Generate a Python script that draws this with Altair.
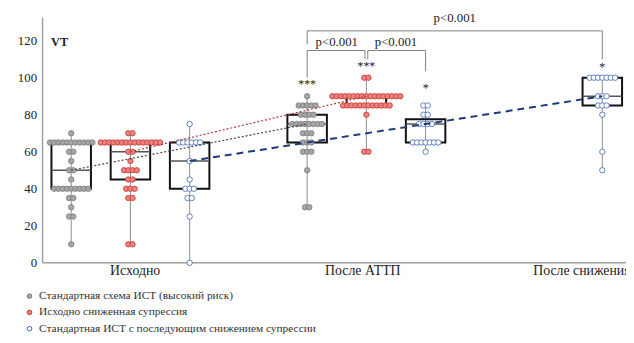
import altair as alt
import pandas as pd

# ---------------- data ----------------
series = ["Стандартная схема ИСТ (высокий риск)",
          "Исходно сниженная супрессия",
          "Стандартная ИСТ с последующим снижением супрессии"]
stages = ["Исходно", "После АТТП", "После снижения"]

gray_base_vals = [70, 65, 60, 55, 50, 45, 40, 35, 30, 25, 10]
gray_base_cnts = [1, 11, 2, 1, 2, 1, 9, 2, 1, 2, 1]
red_base_vals = [70, 65, 60, 55, 50, 45, 40, 35, 10]
red_base_cnts = [2, 15, 2, 1, 4, 2, 3, 2, 2]
blue_base_vals = [75, 65, 55, 45, 40, 35, 25, 0]
blue_base_cnts = [1, 6, 1, 1, 3, 2, 1, 1]
gray_attp_vals = [90, 85, 80, 75, 70, 65, 60, 50, 30]
gray_attp_cnts = [1, 5, 4, 8, 3, 3, 3, 1, 2]
red_attp_vals = [100, 90, 85, 80, 60]
red_attp_cnts = [2, 17, 12, 1, 2]
blue_attp_vals = [85, 80, 75, 65, 60]
blue_attp_cnts = [2, 2, 4, 7, 1]
blue_after_vals = [100, 90, 85, 80, 60, 50]
blue_after_cnts = [7, 3, 3, 1, 1, 1]

# box statistics per (series, stage)
box_series = [0, 1, 2, 0, 1, 2, 2]
box_stage = [0, 0, 0, 1, 1, 1, 2]
box_low = [10, 10, 0, 30, 60, 60, 50]
box_q1 = [40, 45, 40, 65, 85, 65, 85]
box_med = [50, 60, 55, 75, 90, 75, 90]
box_q3 = [65, 65, 65, 80, 90, 77.5, 100]
box_high = [70, 70, 75, 90, 100, 85, 100]

# significance stars (series, stage, text, height)
star_series = [0, 1, 2, 2]
star_stage = [1, 1, 1, 2]
star_text = ["***", "***", "*", "*"]
star_y = [96.5, 106.5, 94.5, 106]

p_texts = ["p<0.001", "p<0.001", "p<0.001"]

# ---------------- layout ----------------
W, H = 591, 322
YMIN, YMAX = -37.33, 134.4
XMIN, XMAX = 0.6276, 3.1004
OFF = 0.251          # series offset inside a stage
HALF = 0.0837        # half box width
SP = 0.018           # dot spacing

FONT = "Liberation Serif"
fills = ["#a6a6a6", "#f08080", "#ffffff"]
strokes = ["#7a7a7a", "#c0392b", "#3c64b4"]


def pos(s, st):
    if st == 2:
        return st + 1.0
    return st + 1.0 + (s - 1) * OFF


dot_sets = [
    (0, 0, gray_base_vals, gray_base_cnts),
    (1, 0, red_base_vals, red_base_cnts),
    (2, 0, blue_base_vals, blue_base_cnts),
    (0, 1, gray_attp_vals, gray_attp_cnts),
    (1, 1, red_attp_vals, red_attp_cnts),
    (2, 1, blue_attp_vals, blue_attp_cnts),
    (2, 2, blue_after_vals, blue_after_cnts),
]
rows = []
for s, st, vals, cnts in dot_sets:
    c = pos(s, st)
    for v, n in zip(vals, cnts):
        for i in range(n):
            rows.append({"x": c + (i - (n - 1) / 2) * SP, "y": v, "series": series[s]})
dots = pd.DataFrame(rows)

boxes = pd.DataFrame({
    "xc": [pos(s, st) for s, st in zip(box_series, box_stage)],
    "low": box_low, "q1": box_q1, "med": box_med, "q3": box_q3, "high": box_high,
    "s": box_series, "st": box_stage,
})
boxes["xl"] = boxes["xc"] - HALF
boxes["xr"] = boxes["xc"] + HALF

XS = alt.Scale(domain=[XMIN, XMAX], nice=False, zero=False)
YS = alt.Scale(domain=[YMIN, YMAX], nice=False, zero=False)
yaxis = alt.Axis(values=[0, 20, 40, 60, 80, 100, 120], title=None, grid=False,
                 ticks=False, domain=False, labelFont=FONT, labelFontSize=13,
                 labelColor="#222222", labelPadding=6)


def X(f):
    return alt.X(f, type="quantitative", scale=XS, axis=None)


def Y(f):
    return alt.Y(f, type="quantitative", scale=YS, axis=yaxis)


base_b = alt.Chart(boxes)
whisk = base_b.mark_rule(color="#8c8c8c", strokeWidth=1).encode(
    x=X("xc"), y=Y("low"), y2=alt.Y2("high"))
rect = base_b.mark_rect(fillOpacity=0, stroke="#111111", strokeWidth=2).encode(
    x=X("xl"), x2=alt.X2("xr"), y=Y("q1"), y2=alt.Y2("q3"))
med = base_b.mark_rule(color="#555555", strokeWidth=1.5).encode(
    x=X("xl"), x2=alt.X2("xr"), y=Y("med"))

leg = alt.Legend(title=None, orient="none", legendX=-19, legendY=280,
                 labelFont=FONT, labelFontSize=11.5, labelColor="#333333",
                 labelLimit=600,
                 symbolSize=22, symbolStrokeWidth=1, rowPadding=3.5,
                 labelOffset=4, symbolType="circle", direction="vertical")
pts = alt.Chart(dots).mark_circle(size=30, opacity=1, strokeWidth=0.8).encode(
    x=X("x"), y=Y("y"),
    fill=alt.Fill("series:N", scale=alt.Scale(domain=series, range=fills), legend=leg),
    stroke=alt.Stroke("series:N", scale=alt.Scale(domain=series, range=strokes), legend=leg),
)


def trend(s, color, dash, width):
    d = boxes[boxes["s"] == s].sort_values("st")
    return alt.Chart(d).mark_line(color=color, strokeDash=dash, strokeWidth=width).encode(
        x=X("xc"), y=Y("med"), order="st:Q")


tr_gray = trend(0, "#404040", [2, 2], 1.2)
tr_red = trend(1, "#b03a3a", [2, 2], 1.2)
tr_blue = trend(2, "#1f3a7a", [7, 5], 2)

stars = pd.DataFrame({"x": [pos(s, st) for s, st in zip(star_series, star_stage)],
                      "y": star_y, "t": star_text})
star_layer = alt.Chart(stars).mark_text(font=FONT, fontSize=12, color="#222222",
                                        baseline="middle").encode(
    x=X("x"), y=Y("y"), text="t:N")

xg, xr_, xb, xa = pos(0, 1), pos(1, 1), pos(2, 1), pos(2, 2)
seg = pd.DataFrame([
    {"x": xg, "x2": xa, "y": 125.3, "y2": 125.3},
    {"x": xg, "x2": xg, "y": 125.3, "y2": 118},
    {"x": xa, "x2": xa, "y": 125.3, "y2": 110},
    {"x": xg, "x2": xr_ - 0.006, "y": 114.7, "y2": 114.7},
    {"x": xg, "x2": xg, "y": 114.7, "y2": 100},
    {"x": xr_ - 0.006, "x2": xr_ - 0.006, "y": 114.7, "y2": 110},
    {"x": xr_ + 0.006, "x2": xb, "y": 114.7, "y2": 114.7},
    {"x": xr_ + 0.006, "x2": xr_ + 0.006, "y": 114.7, "y2": 110},
    {"x": xb, "x2": xb, "y": 114.7, "y2": 103.5},
])
brackets = alt.Chart(seg).mark_rule(color="#7f7f7f", strokeWidth=1).encode(
    x=X("x"), x2=alt.X2("x2"), y=Y("y"), y2=alt.Y2("y2"))
ptxt = pd.DataFrame({"x": [(xg + xa) / 2, (xg + xr_) / 2, (xr_ + xb) / 2],
                     "y": [132, 119.5, 119.5], "t": p_texts})
p_layer = alt.Chart(ptxt).mark_text(font=FONT, fontSize=13, color="#222222",
                                    baseline="middle").encode(
    x=X("x"), y=Y("y"), text="t:N")

yline = alt.Chart(pd.DataFrame({"a": [0], "b": [132.5]})).mark_rule(
    color="#a0a0a0", strokeWidth=1.5).encode(x=alt.value(0), y=Y("a"), y2=alt.Y2("b"))
xline = alt.Chart(pd.DataFrame({"a": [0]})).mark_rule(
    color="#a0a0a0", strokeWidth=1.5).encode(x=alt.value(0), x2=alt.value(W), y=Y("a"))

xl = pd.DataFrame({"x": [1.02, 1.985, 2.707], "y": [-4.5, -4.5, -4.5], "t": stages})
xlab_c = alt.Chart(xl.iloc[:2]).mark_text(font=FONT, fontSize=14, color="#222222",
                                          baseline="middle", align="center").encode(
    x=X("x"), y=Y("y"), text="t:N")
xlab_r = alt.Chart(xl.iloc[2:]).mark_text(font=FONT, fontSize=14, color="#222222",
                                          baseline="middle", align="left", clip=True).encode(
    x=X("x"), y=Y("y"), text="t:N")

vt = alt.Chart(pd.DataFrame({"x": [0.70], "y": [119.5], "t": ["VT"]})).mark_text(
    font=FONT, fontSize=12.5, fontWeight="bold", color="#222222", baseline="middle").encode(
    x=X("x"), y=Y("y"), text="t:N")

chart = alt.layer(
    yline, xline, whisk, rect, med, pts, tr_gray, tr_red, tr_blue,
    star_layer, brackets, p_layer, xlab_c, xlab_r, vt
).properties(
    width=W, height=H,
    autosize=alt.AutoSizeParams(type="none"),
    padding={"left": 35, "top": 4, "right": 0, "bottom": 0},
    background="white",
).configure_view(stroke=None).configure_axis(
    labelFont=FONT
).configure_legend(labelFont=FONT, labelLimit=600)

chart.save("out.html", embed_options={"renderer": "svg", "actions": False})
